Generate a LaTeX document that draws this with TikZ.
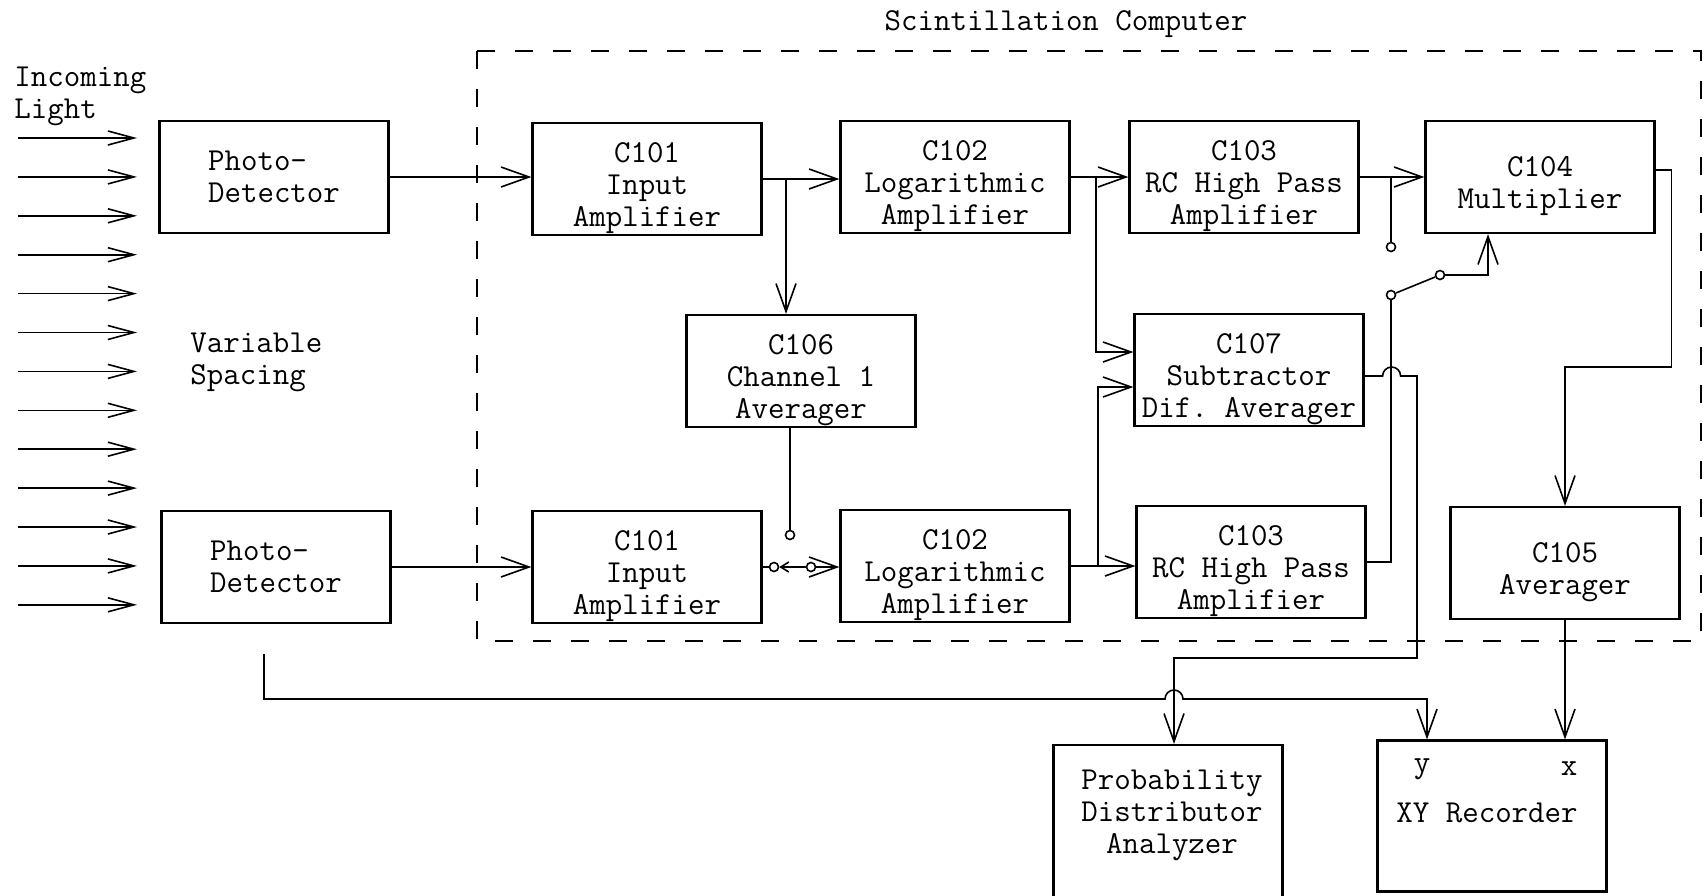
\documentclass[tikz,border=0pt]{standalone}
\usepackage{tikz}
\usetikzlibrary{
    arrows.meta,           % Barb arrow tips
    calc                   % Coordinate calculations
}

\newcommand{\tw}{\ttfamily\fontsize{16}{16}\selectfont\frenchspacing}

\tikzset{
    box/.style={draw, line width=1.1pt, minimum width=114.5pt, minimum height=56pt,
        inner sep=0pt, align=center, font=\tw},
    blk/.style={box, label={[lbl]center:#1}},
    lbl/.style={inner sep=0pt, align=center, font=\tw, yshift=-4.5pt},
    txt/.style={inner sep=0pt, align=left, font=\tw},
    wire/.style={line width=0.8pt},
    sig/.style={wire, -{Straight Barb[length=14pt, width=10pt]}},
    ray/.style={line width=0.8pt, -{Straight Barb[length=13pt, width=7pt]}},
    contact/.style={circle, draw, line width=0.8pt, minimum size=4.5pt, inner sep=0pt},
    frame/.style={line width=1.4pt, dash pattern=on 9pt off 10pt}
}

\begin{document}
\begin{tikzpicture}[x=0.5pt, y=-0.5pt]
    \useasboundingbox (0,0) rectangle (1707,895);

    % scintillation computer frame
    \draw[frame] (477,51) rectangle (1701,641);
    \node[txt] (title) at (1066,24) {Scintillation Computer};

    % incoming light
    \node[txt, anchor=west] (light) at (14,96) {Incoming\\Light};
    \node[txt, anchor=west] (spacing) at (190,362) {Variable\\Spacing};
    \foreach \i in {0,...,12}
        \draw[ray] (18,138+38.9*\i) -- (137,138+38.9*\i);

    % blocks
    \node[box, align=left] (pd1) at (274,177) {Photo-\\Detector};
    \node[box, align=left] (pd2) at (276,567) {Photo-\\Detector};
    \node[blk={C101\\Input\\Amplifier}] (c101a) at (647,179) {};
    \node[blk={C102\\Logarithmic\\Amplifier}] (c102a) at (955,177) {};
    \node[blk={C103\\RC High Pass\\Amplifier}] (c103a) at (1244,177) {};
    \node[blk={C104\\Multiplier}] (c104) at (1540,177) {};
    \node[blk={C106\\Channel 1\\Averager}] (c106) at (801,371) {};
    \node[blk={C107\\Subtractor\\Dif. Averager}] (c107) at (1249,370) {};
    \node[blk={C101\\Input\\Amplifier}] (c101b) at (647,567) {};
    \node[blk={C102\\Logarithmic\\Amplifier}] (c102b) at (955,566) {};
    \node[blk={C103\\RC High Pass\\Amplifier}] (c103b) at (1251,562) {};
    \node[blk={C105\\Averager}] (c105) at (1565,563) {};
    \node[box, minimum height=85pt] (pda) at (1168,830) {};
    \node[txt, align=center] (pdatext) at (1172,815) {Probability\\Distributor\\Analyzer};
    \node[box, minimum height=75.5pt] (xy) at (1492,816) {};
    \node[txt] (xyy) at (1422,769) {y};
    \node[txt] (xyx) at (1569,769) {x};
    \node[txt] (xytext) at (1487,813) {XY Recorder};

    % channel 1
    \draw[sig] (pd1.east) -- (pd1.east -| c101a.west);
    \draw[sig] (c101a.east) -- (c101a.east -| c102a.west);
    \coordinate (j1) at (786,179);
    \draw[sig] (j1) -- (j1 |- c106.north);
    \draw[sig] (c102a.east) -- (c102a.east -| c103a.west);
    \coordinate (j2) at (1096,177);
    \draw[sig] (j2) |- ([yshift=9pt]c107.west);
    \draw[sig] (c103a.east) -- (c103a.east -| c104.west);

    % multiplier switch
    \coordinate (j3) at (1391,177);
    \node[contact] (s1a) at (1391,247) {};
    \node[contact] (s1p) at (1391,295) {};
    \node[contact] (s1b) at (1440,275) {};
    \draw[wire] (j3) -- (s1a);
    \draw[wire] (s1p) -- (s1b);
    \draw[sig] (s1b) -| ([xshift=-26pt]c104.south);
    \draw[wire] (s1p) |- (c103b.east);

    % channel 2
    \draw[sig] (pd2.east) -- (pd2.east -| c101b.west);
    \node[contact] (s2c) at (790,535) {};
    \node[contact] (s2a) at (774,567) {};
    \node[contact] (s2b) at (811,567) {};
    \draw[wire] (c106.south -| s2c) -- (s2c);
    \draw[wire] (c101b.east) -- (s2a);
    \draw[wire, -{Straight Barb[length=4pt, width=5pt]}] (s2b) -- (s2a);
    \draw[sig] (s2b) -- (s2b -| c102b.west);
    \draw[sig] (c102b.east) -- (c102b.east -| c103b.west);
    \coordinate (j4) at (1098,566);
    \draw[sig] (j4) |- ([yshift=-8.5pt]c107.west);

    % outputs
    \draw[sig] ([yshift=-3pt]c107.east) -- ++(9pt,0) arc[start angle=180, end angle=0, radius=4.5pt]
        -| (1417,658) -| ([xshift=3pt]pda.north);
    \draw[sig] ([yshift=3.5pt]c104.east) -- ++(8pt,0) -- ++(0,-98.5pt) -| (c105.north);
    \draw[sig] (c105.south) -- (c105.south |- xy.north);
    \draw[sig] ([xshift=-6pt, yshift=-15pt]pd2.south) |- (1165,699)
        arc[start angle=180, end angle=0, radius=4.5pt] -| ([xshift=-32.5pt]xy.north);
\end{tikzpicture}
\end{document}
